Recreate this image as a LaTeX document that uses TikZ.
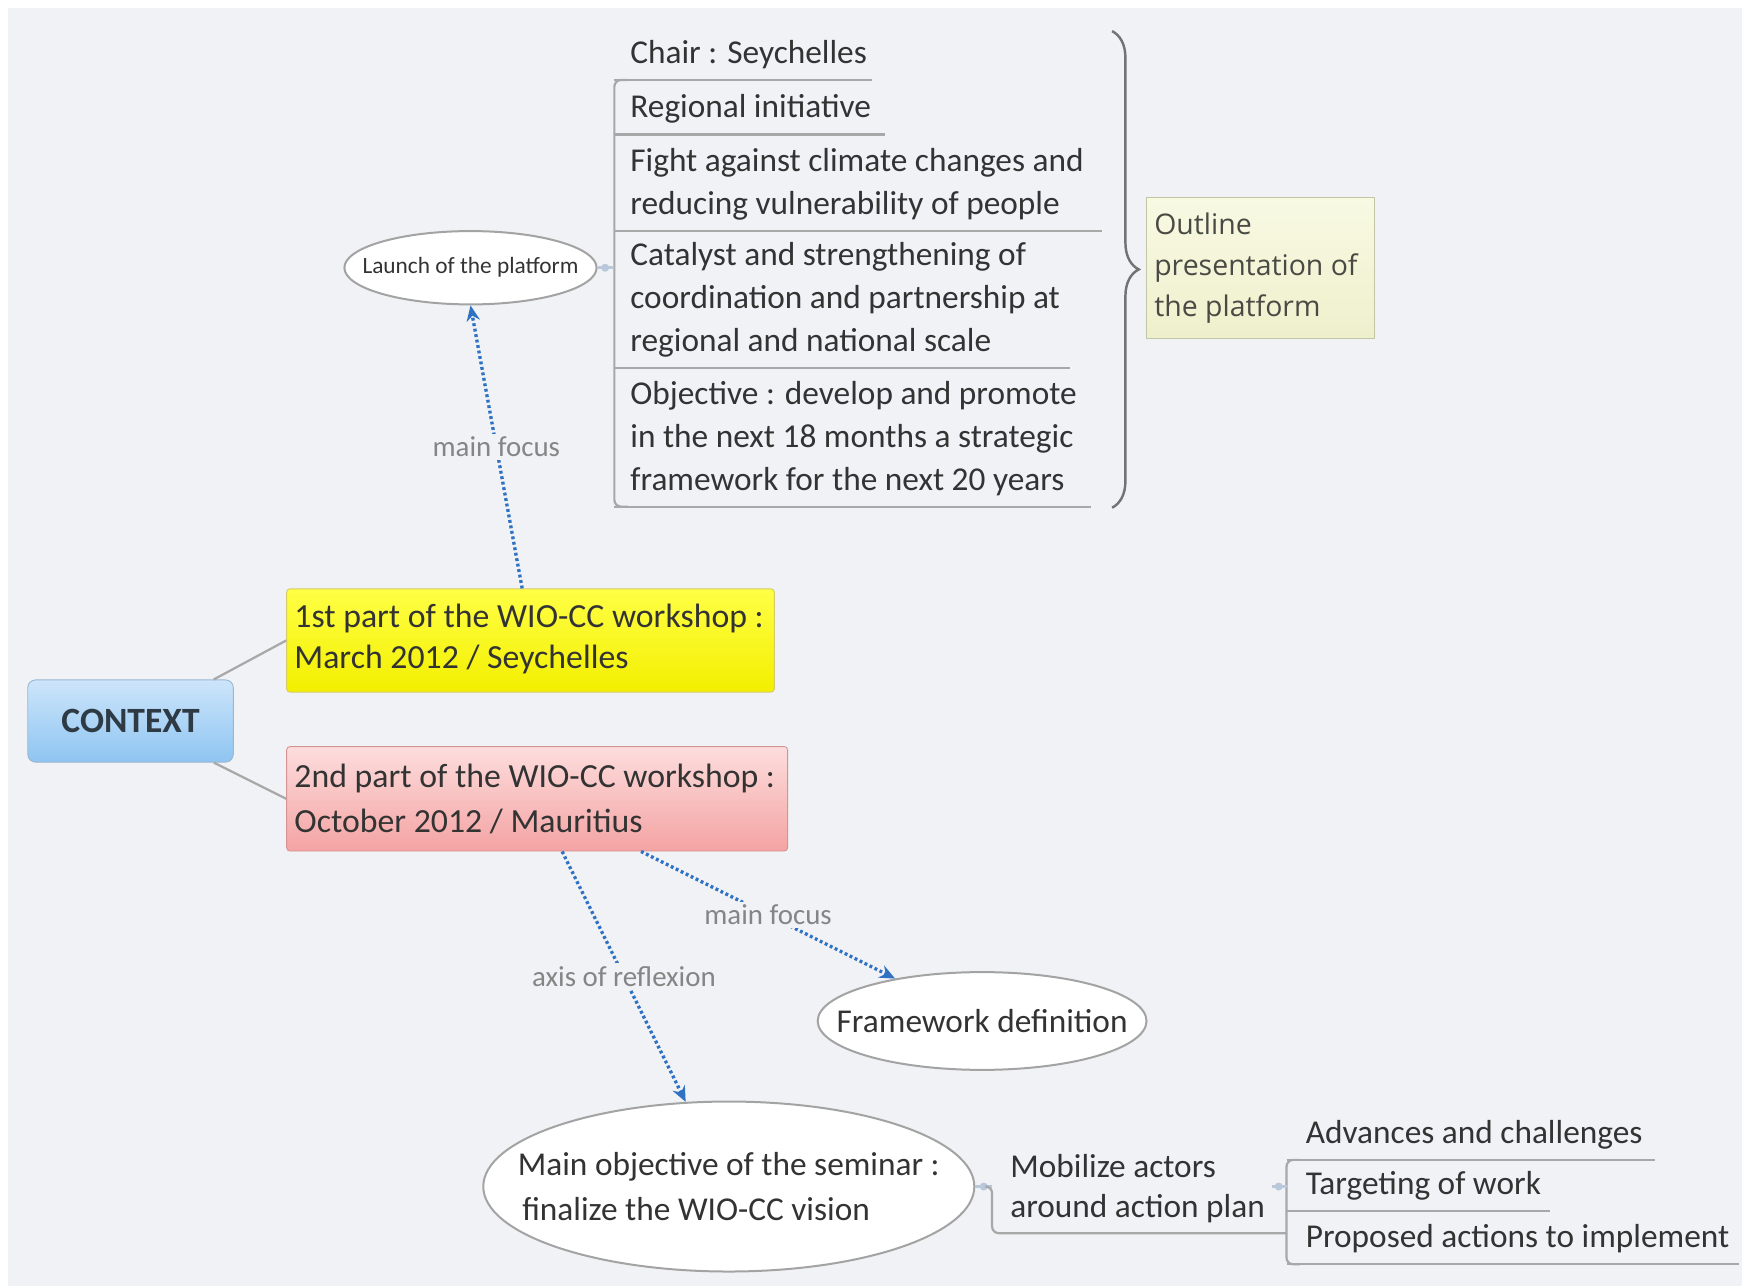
\documentclass[tikz,border=0pt]{standalone}
\usepackage{fontspec}
\setmainfont{Carlito}
\newfontfamily\outlinefont{Open Sans}
\usetikzlibrary{shapes.geometric,arrows.meta,decorations.pathreplacing,calc}
\definecolor{bgc}{HTML}{F1F2F6}
\definecolor{txtc}{HTML}{333333}
\definecolor{labc}{HTML}{858585}
\definecolor{ulc}{HTML}{A8A8A8}
\definecolor{arrc}{HTML}{2F72C4}
\definecolor{stubc}{HTML}{B9C8DA}
\definecolor{ctxtop}{HTML}{CDE5FB}
\definecolor{ctxbot}{HTML}{8EC5F1}
\definecolor{ctxedge}{HTML}{9AB6D0}
\definecolor{ctxtext}{HTML}{2E3A44}
\definecolor{ytop}{HTML}{FFFF45}
\definecolor{ybot}{HTML}{F3EF00}
\definecolor{yedge}{HTML}{D6CB6A}
\definecolor{rtop}{HTML}{FDDDDD}
\definecolor{rbot}{HTML}{F4A3A3}
\definecolor{redge}{HTML}{D49494}
\definecolor{otop}{HTML}{F8F9E3}
\definecolor{obot}{HTML}{EEF0CC}
\definecolor{oedge}{HTML}{C2C6A6}
\definecolor{otext}{HTML}{4A4A44}
\definecolor{elledge}{HTML}{A3A3A3}
\begin{document}
\begin{tikzpicture}[x=0.5pt,y=-0.5pt,
  ctxbox/.style={rectangle, rounded corners=3.5pt, draw=ctxedge, top color=ctxtop, bottom color=ctxbot,
    minimum width=92.5pt, minimum height=37pt, font=\bfseries\fontsize{16}{18}\selectfont, text=ctxtext},
  wbox/.style={rectangle, rounded corners=1.5pt},
  boxtext/.style={anchor=west, inner sep=0pt, align=left, text=txtc},
  ell/.style={ellipse, draw=elledge, fill=white, line width=0.9pt, inner sep=0pt},
  item/.style={anchor=south west, inner xsep=7pt, inner ysep=1.5pt, align=left, text=txtc,
    font=\fontsize{15}{19.25}\selectfont},
  uline/.style={draw=ulc, line width=1pt},
  conn/.style={draw=ulc, line width=1pt},
  stub/.style={draw=stubc, line width=1.4pt},
  focus/.style={draw=arrc, line width=1.5pt, dash pattern=on 1.3pt off 1.2pt,
    -{Stealth[length=7pt,width=6pt]}},
  lab/.style={text=labc, fill=bgc, inner sep=1.5pt, font=\fontsize{13}{15}\selectfont},
  bracestyle/.style={draw=gray!90!black, line width=1.1pt, decorate, decoration={brace, amplitude=12pt}}
]
\useasboundingbox (0,0) rectangle (1568,1157.6);
\fill[white] (0,0) rectangle (1568,1157.6);
\fill[bgc] (7,7) rectangle (1568,1157.6);

% central topic
\node[ctxbox] (ctx) at (117.5,649) {CONTEXT};
\node[wbox, top color=ytop, bottom color=ybot, draw=yedge, minimum width=219.5pt, minimum height=46.5pt] (y1) at (477.5,576.5) {};
\node[boxtext, font=\fontsize{15.2}{18.5}\selectfont] (y1t) at ([xshift=3.5pt,yshift=0.6pt]y1.west)
  {1st part of the WIO-CC workshop :\\March 2012 / Seychelles};
\node[wbox, top color=rtop, bottom color=rbot, draw=redge, minimum width=225.5pt, minimum height=47pt] (r2) at (483.5,719) {};
\node[boxtext, font=\fontsize{15.2}{20}\selectfont] (r2t) at ([xshift=3.5pt]r2.west)
  {2nd part of the WIO-CC workshop :\\October 2012 / Mauritius};
\draw[conn] ([xshift=-9pt]ctx.north east) -- (y1.west);
\draw[conn] ([xshift=-9pt]ctx.south east) -- (r2.west);

% launch
\node[ell, minimum width=113.5pt, minimum height=33pt] (L) at (423.5,241) {};
\node[font=\fontsize{10.5}{12}\selectfont, text=txtc] (Lt) at (L) {Launch of the platform};
\draw[focus] ([xshift=-3.75pt]y1.north) -- (L.south) node[lab, midway] (lab1) {main focus};

% list 1
\node[item] (i1) at (553,72) {Chair : Seychelles\strut};
\node[item] (i2) at (553,121) {Regional initiative\strut};
\node[item] (i3) at (553,208) {Fight against climate changes and\\reducing vulnerability of people\strut};
\node[item] (i4) at (553,331) {Catalyst and strengthening of\\coordination and partnership at\\regional and national scale\strut};
\node[item] (i5) at (553,456) {Objective : develop and promote\\in the next 18 months a strategic\\framework for the next 20 years\strut};
\draw[uline] (i1.south west) -- ++(232,0);
\draw[uline] (i2.south west) -- ++(244,0);
\draw[uline] (i3.south west) -- ++(439,0);
\draw[uline] (i4.south west) -- ++(410,0);
\draw[uline] (i5.south west) -- ++(429,0);
\draw[uline, rounded corners=3pt] ([xshift=6pt]i1.south west) -- (i1.south west) -- (i5.south west) -- ([xshift=6pt]i5.south west);
\draw[stub] (L.east) -- (L.east -| i1.south west);
\fill[stubc] ($(L.east)!0.45!(L.east -| i1.south west)$) circle (1.8pt);

% brace and outline
\coordinate (bt) at (1001,28);
\coordinate (bb) at (1001,457);
\draw[bracestyle] (bt) -- (bb);
\node[rectangle, draw=oedge, top color=otop, bottom color=obot, minimum width=102.5pt, minimum height=63.5pt] (O) at (1134.5,241.5) {};
\node[boxtext, text=otext, font=\outlinefont\fontsize{12.8}{18.5}\selectfont] (Ot) at ([xshift=3.5pt]O.west)
  {Outline\\presentation of\\the platform};

% second part
\node[ell, minimum width=148pt, minimum height=44pt] (F) at (884,919) {};
\node[font=\fontsize{15}{18}\selectfont, text=txtc] (Ft) at (F) {Framework definition};
\node[ell, minimum width=221pt, minimum height=76.5pt] (M) at (656,1068) {};
\node[align=left, font=\fontsize{15}{20}\selectfont, text=txtc] (Mt) at (M)
  {Main objective of the seminar :\\\hspace*{2pt}finalize the WIO-CC vision};
\draw[focus] ([xshift=11.25pt]r2.south) -- (M.117) node[lab, midway] (lab2) {axis of reflexion};
\draw[focus] ([xshift=46.75pt]r2.south) -- (F.154) node[lab, midway] (lab3) {main focus};

% mobilize
\node[item, inner xsep=8pt, font=\fontsize{15}{18}\selectfont] (mo) at (893,1110) {Mobilize actors\\around action plan\strut};
\draw[stub] (M.east) -- (M.east -| mo.south west);
\fill[stubc] ($(M.east)!0.5!(M.east -| mo.south west)$) circle (1.8pt);
\draw[uline, rounded corners=3pt] ([xshift=-2pt]M.east -| mo.south west) -- (M.east -| mo.south west) -- (mo.south west) -- ++(265,0);

% list 2
\node[item, inner xsep=8.5pt] (j1) at (1158,1044) {Advances and challenges\strut};
\node[item, inner xsep=8.5pt] (j2) at (1158,1090) {Targeting of work\strut};
\node[item, inner xsep=8.5pt] (j3) at (1158,1138) {Proposed actions to implement\strut};
\draw[uline] (j1.south west) -- ++(332,0);
\draw[uline] (j2.south west) -- ++(237,0);
\draw[uline] (j3.south west) -- ++(407,0);
\draw[uline, rounded corners=3pt] ([xshift=6pt]j1.south west) -- (j1.south west) -- (j3.south west) -- ([xshift=6pt]j3.south west);
\draw[stub] ([xshift=-5pt]mo.east |- M.east) -- (M.east -| j1.south west);
\fill[stubc] ([xshift=-2pt]mo.east |- M.east) circle (1.8pt);
\end{tikzpicture}
\end{document}
